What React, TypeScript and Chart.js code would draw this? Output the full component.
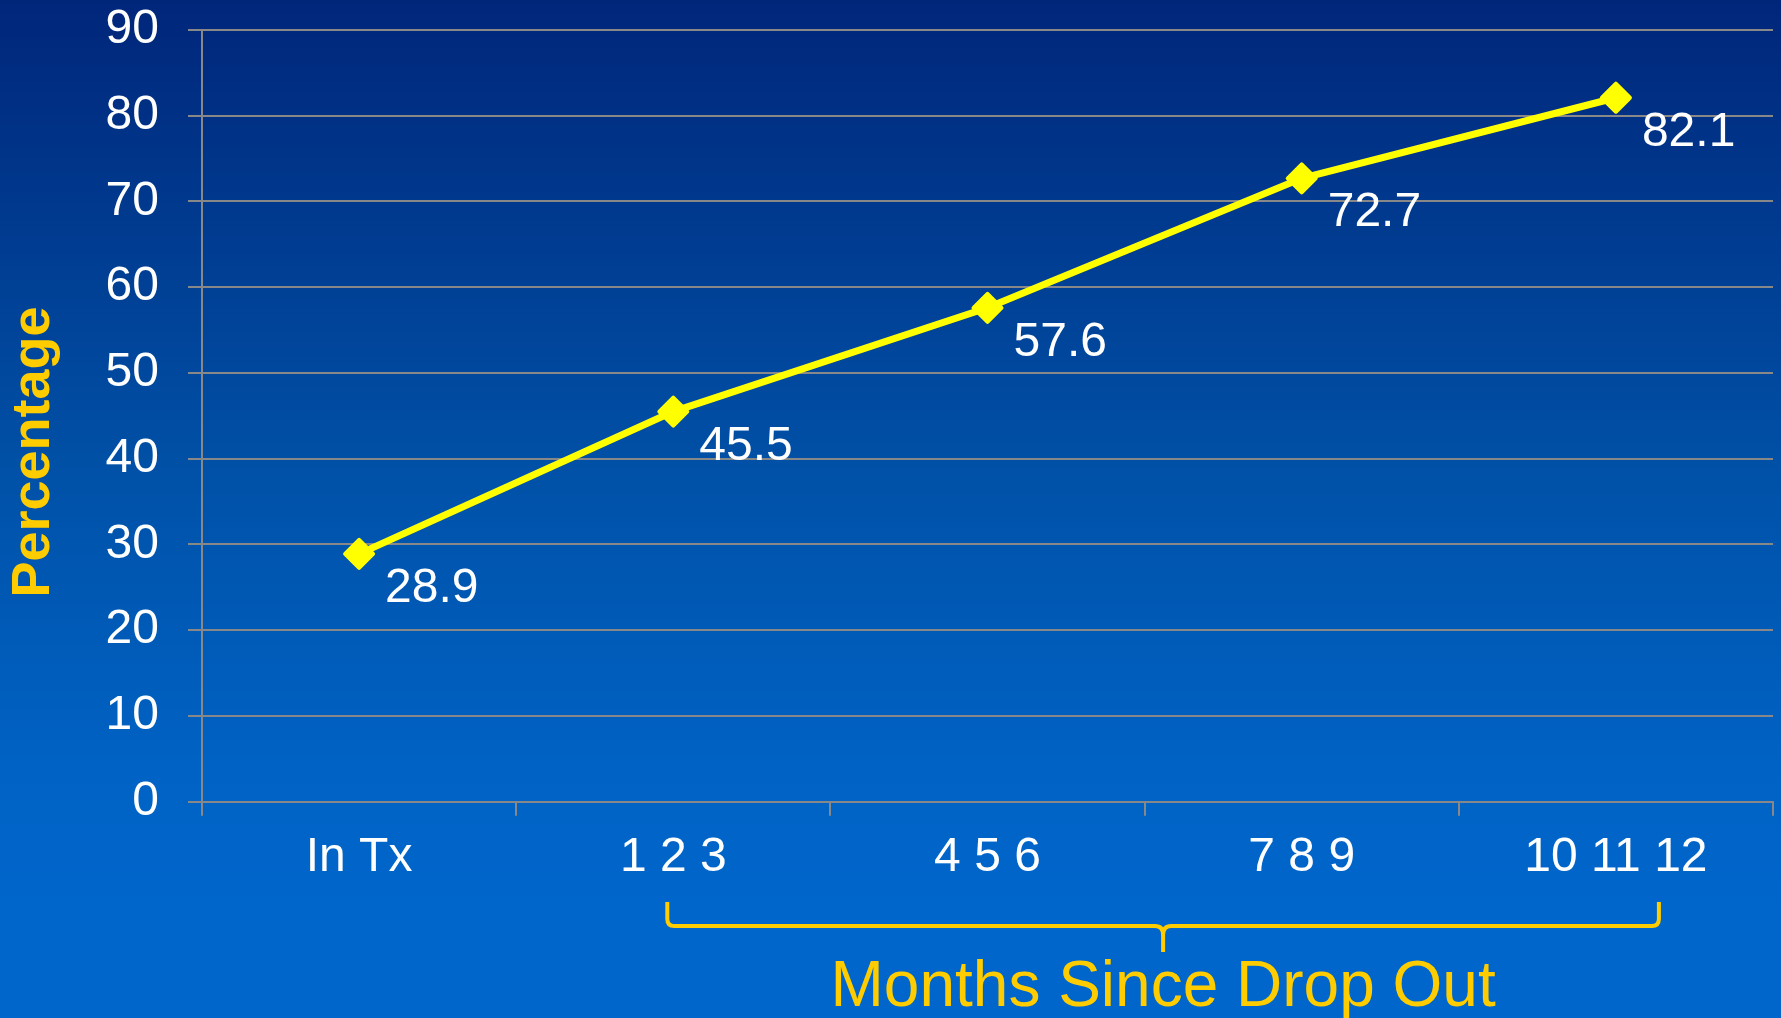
import React, { useEffect, useRef } from "react";
import { Chart, registerables } from "chart.js";

Chart.register(...registerables);

// Share of patients, by time since leaving treatment
const categories: string[] = ["In Tx", "1 2 3", "4 5 6", "7 8 9", "10 11 12"];
const percentages: number[] = [28.9, 45.5, 57.6, 72.7, 82.1];
const yTicks: number[] = [0, 10, 20, 30, 40, 50, 60, 70, 80, 90];
const yAxisTitle = "Percentage";
const xAxisTitle = "Months Since Drop Out";

const W = 1781;
const H = 1018;
const FONT = "'Liberation Sans', Arial, Helvetica, sans-serif";
const GOLD = "#FFCC00";
const GRID = "#888888";
const TEXT_SIZE = 48;

const backgroundPlugin = {
  id: "slideBackground",
  beforeDraw(chart: any) {
    const { ctx, width, height } = chart;
    const g = ctx.createLinearGradient(0, 0, 0, height);
    g.addColorStop(0, "#00267A");
    g.addColorStop(0.45, "#0050A6");
    g.addColorStop(0.75, "#0062C4");
    g.addColorStop(0.9, "#0066CC");
    g.addColorStop(1, "#0066CC");
    ctx.save();
    ctx.fillStyle = g;
    ctx.fillRect(0, 0, width, height);
    ctx.restore();
  },
};

// Rounded corners on the diamond markers
const roundJoinPlugin = {
  id: "roundJoin",
  beforeDatasetDraw(chart: any) {
    chart.ctx.save();
    chart.ctx.lineJoin = "round";
  },
  afterDatasetDraw(chart: any) {
    chart.ctx.restore();
  },
};

const annotationsPlugin = {
  id: "annotations",
  afterDraw(chart: any) {
    const { ctx } = chart;
    const meta = chart.getDatasetMeta(0);
    const xs = chart.scales.x;

    // value labels below-right of each point
    ctx.save();
    ctx.font = `${TEXT_SIZE}px ${FONT}`;
    ctx.fillStyle = "#FFFFFF";
    ctx.textAlign = "left";
    ctx.textBaseline = "alphabetic";
    meta.data.forEach((pt: any, i: number) => {
      ctx.fillText(percentages[i].toFixed(1), pt.x + 26, pt.y + 48);
    });
    ctx.restore();

    // vertical axis title
    ctx.save();
    ctx.font = `bold 54px ${FONT}`;
    ctx.fillStyle = GOLD;
    ctx.textAlign = "center";
    ctx.textBaseline = "middle";
    ctx.translate(34, 452);
    ctx.rotate(-Math.PI / 2);
    ctx.fillText(yAxisTitle, 0, 0);
    ctx.restore();

    // brace grouping the months-since-drop-out categories
    const left = xs.getPixelForValue(1) - 6;
    const right = xs.getPixelForValue(categories.length - 1) + 43;
    const mid = (left + right) / 2;
    const top = 902;
    const bar = 926;
    const tip = 952;
    const r = 7;
    ctx.save();
    ctx.strokeStyle = GOLD;
    ctx.lineWidth = 4;
    ctx.lineJoin = "round";
    ctx.lineCap = "butt";
    ctx.beginPath();
    ctx.moveTo(left, top);
    ctx.lineTo(left, bar - r);
    ctx.quadraticCurveTo(left, bar, left + r, bar);
    ctx.lineTo(mid - 8, bar);
    ctx.quadraticCurveTo(mid, bar, mid, bar + 9);
    ctx.lineTo(mid, tip);
    ctx.moveTo(mid, bar + 9);
    ctx.quadraticCurveTo(mid, bar, mid + 8, bar);
    ctx.lineTo(right - r, bar);
    ctx.quadraticCurveTo(right, bar, right, bar - r);
    ctx.lineTo(right, top);
    ctx.stroke();
    ctx.restore();

    // horizontal axis title
    ctx.save();
    ctx.font = `64px ${FONT}`;
    ctx.fillStyle = GOLD;
    ctx.textAlign = "center";
    ctx.textBaseline = "alphabetic";
    ctx.fillText(xAxisTitle, mid, 1006);
    ctx.restore();
  },
};

export default function App() {
  const canvasRef = useRef<HTMLCanvasElement | null>(null);

  useEffect(() => {
    if (!canvasRef.current) return;
    const chart = new Chart(canvasRef.current, {
      type: "line",
      data: {
        labels: categories,
        datasets: [
          {
            data: percentages,
            borderColor: "#FFFF00",
            backgroundColor: "#FFFF00",
            borderWidth: 7,
            tension: 0,
            fill: false,
            pointStyle: "rectRot",
            pointRadius: 14,
            pointHoverRadius: 14,
            pointBorderWidth: 4,
            pointBackgroundColor: "#FFFF00",
            pointBorderColor: "#FFFF00",
          },
        ],
      },
      options: {
        responsive: false,
        animation: false,
        layout: { autoPadding: false, padding: { top: 30, right: 8, left: 0, bottom: 0 } },
        plugins: {
          legend: { display: false },
          tooltip: { enabled: false },
          title: { display: false },
        },
        scales: {
          x: {
            type: "category",
            offset: true,
            grid: {
              offset: true,
              drawOnChartArea: false,
              drawTicks: true,
              tickLength: 14,
              color: GRID,
              lineWidth: 2,
            },
            border: { display: true, color: GRID, width: 2 },
            ticks: {
              color: "#FFFFFF",
              font: { size: TEXT_SIZE, family: FONT },
              padding: 13,
              maxRotation: 0,
              autoSkip: false,
            },
            afterFit(scale: any) {
              scale.height = H - 801.7;
              scale.paddingLeft = 0;
              scale.paddingRight = 0;
            },
          },
          y: {
            min: 0,
            max: 90,
            afterBuildTicks(scale: any) {
              scale.ticks = yTicks.map((v) => ({ value: v }));
            },
            grid: {
              drawOnChartArea: true,
              drawTicks: true,
              tickLength: 14,
              color: GRID,
              lineWidth: 2,
            },
            border: { display: true, color: GRID, width: 2 },
            ticks: {
              color: "#FFFFFF",
              font: { size: TEXT_SIZE, family: FONT },
              padding: 29,
            },
            afterFit(scale: any) {
              scale.width = 202;
              scale.paddingTop = 0;
              scale.paddingBottom = 0;
            },
          },
        },
      },
      plugins: [backgroundPlugin, roundJoinPlugin, annotationsPlugin],
    });
    return () => chart.destroy();
  }, []);

  return (
    <div style={{ position: "fixed", left: 0, top: 0, width: W, height: H, overflow: "hidden" }}>
      <canvas ref={canvasRef} width={W} height={H} style={{ display: "block" }} />
    </div>
  );
}
